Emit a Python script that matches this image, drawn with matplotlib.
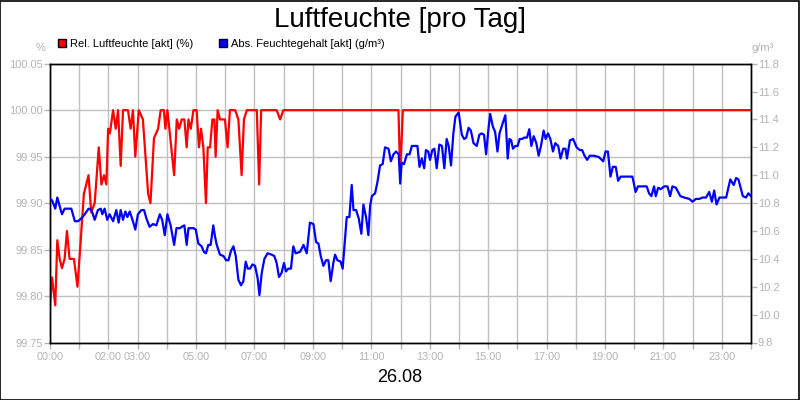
import numpy as np
import matplotlib
matplotlib.use("Agg")
import matplotlib.pyplot as plt
from matplotlib.patches import Patch

plt.rcParams['font.family'] = ['Liberation Sans', 'DejaVu Sans']

# Rel. Luftfeuchte (%) - Stunden / Werte
red_h = [0.00, 0.07, 0.18, 0.25, 0.33, 0.41, 0.50, 0.58, 0.67, 0.82,
         0.94, 1.03, 1.16, 1.32, 1.41, 1.53, 1.67, 1.76, 1.85, 1.93,
         1.99, 2.05, 2.16, 2.25, 2.33, 2.42, 2.50, 2.67, 2.76, 2.84,
         2.92, 3.04, 3.18, 3.36, 3.44, 3.56, 3.70, 3.79, 3.90, 3.95,
         4.02, 4.25, 4.34, 4.42, 4.51, 4.60, 4.68, 4.74, 4.82, 4.91,
         5.02, 5.10, 5.17, 5.25, 5.34, 5.40, 5.48, 5.56, 5.63, 5.67,
         5.74, 5.82, 5.99, 6.08, 6.16, 6.34, 6.45, 6.56, 6.64, 6.74,
         7.08, 7.16, 7.23, 7.76, 7.88, 7.99, 11.93, 11.99, 12.08, 24.00]
red_v = [99.79, 99.82, 99.79, 99.86, 99.84, 99.83, 99.84, 99.87, 99.84, 99.84,
         99.81, 99.85, 99.91, 99.93, 99.89, 99.90, 99.96, 99.92, 99.93, 99.92,
         99.98, 99.975, 100.0, 99.98, 100.0, 99.94, 100.0, 100.0, 99.98, 100.0,
         99.95, 100.0, 99.99, 99.91, 99.90, 99.97, 99.98, 100.0, 100.0, 99.98,
         100.0, 99.93, 99.99, 99.98, 99.99, 99.99, 99.96, 99.99, 99.98, 100.0,
         100.0, 99.96, 99.98, 99.96, 99.90, 99.96, 99.96, 99.99, 99.99, 99.95,
         100.0, 99.99, 99.99, 99.96, 100.0, 100.0, 99.99, 99.93, 99.99, 100.0,
         100.0, 99.92, 100.0, 100.0, 99.99, 100.0, 100.0, 99.93, 100.0, 100.0]

# Abs. Feuchtegehalt (g/m3)
blue_h = [0.00, 0.07, 0.18, 0.25, 0.33, 0.41, 0.50, 0.73, 0.85, 0.96,
          1.07, 1.19, 1.32, 1.42, 1.53, 1.64, 1.74, 1.79, 1.87, 1.96,
          2.04, 2.16, 2.27, 2.35, 2.42, 2.50, 2.58, 2.65, 2.73, 2.84,
          2.92, 3.01, 3.13, 3.22, 3.30, 3.41, 3.53, 3.64, 3.76, 3.84,
          3.93, 4.02, 4.13, 4.25, 4.33, 4.45, 4.51, 4.60, 4.68, 4.74,
          4.91, 4.99, 5.08, 5.19, 5.27, 5.34, 5.42, 5.50, 5.59, 5.65,
          5.71, 5.82, 5.94, 6.03, 6.11, 6.20, 6.28, 6.36, 6.45, 6.54,
          6.62, 6.70, 6.77, 6.85, 6.93, 7.02, 7.11, 7.17, 7.25, 7.34,
          7.45, 7.59, 7.68, 7.76, 7.84, 7.93, 8.01, 8.08, 8.16, 8.25,
          8.33, 8.41, 8.56, 8.68, 8.79, 8.90, 9.02, 9.11, 9.19, 9.27,
          9.36, 9.45, 9.53, 9.61, 9.70, 9.76, 9.84, 9.95, 10.02, 10.10,
          10.16, 10.25, 10.33, 10.39, 10.48, 10.57, 10.66, 10.73, 10.82, 10.90,
          10.96, 11.02, 11.13, 11.21, 11.30, 11.39, 11.47, 11.59, 11.67, 11.76,
          11.85, 11.94, 11.99, 12.04, 12.12, 12.22, 12.31, 12.39, 12.50, 12.58,
          12.65, 12.73, 12.81, 12.87, 12.95, 13.01, 13.09, 13.16, 13.24, 13.33,
          13.42, 13.50, 13.58, 13.65, 13.73, 13.81, 13.88, 13.99, 14.10, 14.18,
          14.25, 14.33, 14.41, 14.50, 14.61, 14.70, 14.78, 14.86, 14.93, 15.01,
          15.07, 15.16, 15.24, 15.32, 15.39, 15.51, 15.59, 15.67, 15.73, 15.79,
          15.85, 15.93, 16.01, 16.08, 16.16, 16.24, 16.33, 16.41, 16.48, 16.56,
          16.65, 16.73, 16.81, 16.90, 16.97, 17.05, 17.13, 17.22, 17.30, 17.40,
          17.48, 17.57, 17.65, 17.70, 17.80, 17.91, 18.03, 18.14, 18.22, 18.30,
          18.39, 18.48, 18.62, 18.79, 18.94, 19.02, 19.10, 19.19, 19.27, 19.37,
          19.45, 19.54, 19.71, 19.94, 20.05, 20.13, 20.28, 20.43, 20.51, 20.59,
          20.68, 20.74, 20.82, 20.91, 21.03, 21.14, 21.23, 21.31, 21.43, 21.58,
          21.71, 21.89, 22.00, 22.11, 22.23, 22.34, 22.46, 22.57, 22.66, 22.74,
          22.82, 22.92, 23.03, 23.15, 23.29, 23.41, 23.49, 23.57, 23.72, 23.83,
          23.91, 24.00]
blue_v = [10.83, 10.82, 10.76, 10.84, 10.78, 10.72, 10.76, 10.76, 10.67, 10.67,
          10.69, 10.72, 10.76, 10.75, 10.68, 10.75, 10.76, 10.72, 10.76, 10.68,
          10.72, 10.67, 10.75, 10.66, 10.75, 10.68, 10.74, 10.70, 10.74, 10.67,
          10.61, 10.72, 10.75, 10.75, 10.69, 10.63, 10.65, 10.64, 10.72, 10.68,
          10.57, 10.72, 10.64, 10.50, 10.62, 10.62, 10.63, 10.64, 10.50, 10.62,
          10.62, 10.61, 10.51, 10.49, 10.45, 10.44, 10.50, 10.50, 10.64, 10.56,
          10.50, 10.43, 10.42, 10.39, 10.39, 10.46, 10.49, 10.42, 10.25, 10.21,
          10.24, 10.38, 10.33, 10.33, 10.36, 10.35, 10.26, 10.14, 10.30, 10.40,
          10.44, 10.43, 10.42, 10.37, 10.27, 10.30, 10.37, 10.31, 10.33, 10.33,
          10.49, 10.44, 10.45, 10.50, 10.44, 10.66, 10.65, 10.52, 10.51, 10.42,
          10.35, 10.39, 10.39, 10.24, 10.37, 10.43, 10.39, 10.38, 10.33, 10.54,
          10.70, 10.70, 10.93, 10.75, 10.75, 10.69, 10.58, 10.79, 10.70, 10.57,
          10.78, 10.85, 10.87, 10.95, 11.07, 11.08, 11.20, 11.19, 11.10, 11.15,
          11.17, 11.15, 10.94, 11.09, 11.08, 11.15, 11.15, 11.21, 11.21, 11.21,
          11.06, 11.12, 11.05, 11.18, 11.17, 11.11, 11.18, 11.19, 11.05, 11.22,
          11.21, 11.05, 11.26, 11.21, 11.07, 11.30, 11.42, 11.45, 11.29, 11.26,
          11.27, 11.34, 11.32, 11.23, 11.21, 11.29, 11.30, 11.29, 11.15, 11.33,
          11.44, 11.35, 11.31, 11.17, 11.30, 11.38, 11.43, 11.12, 11.26, 11.25,
          11.19, 11.21, 11.21, 11.26, 11.26, 11.27, 11.27, 11.33, 11.21, 11.28,
          11.23, 11.14, 11.21, 11.32, 11.26, 11.30, 11.26, 11.17, 11.23, 11.21,
          11.12, 11.19, 11.19, 11.12, 11.25, 11.26, 11.20, 11.18, 11.18, 11.14,
          11.11, 11.14, 11.14, 11.13, 11.10, 11.17, 11.17, 10.99, 11.06, 11.06,
          10.96, 10.99, 10.99, 10.99, 10.88, 10.92, 10.92, 10.92, 10.87, 10.85,
          10.92, 10.85, 10.91, 10.90, 10.92, 10.92, 10.85, 10.92, 10.91, 10.85,
          10.84, 10.83, 10.81, 10.83, 10.83, 10.84, 10.84, 10.88, 10.81, 10.89,
          10.79, 10.84, 10.84, 10.84, 10.97, 10.93, 10.98, 10.97, 10.85, 10.84,
          10.87, 10.85]

left_ticks = [99.75, 99.80, 99.85, 99.90, 99.95, 100.00, 100.05]
right_ticks = [9.8, 10.0, 10.2, 10.4, 10.6, 10.8, 11.0, 11.2, 11.4, 11.6, 11.8]
x_labels = {0: "00:00", 2: "02:00", 3: "03:00", 5: "05:00", 7: "07:00", 9: "09:00",
            11: "11:00", 13: "13:00", 15: "15:00", 17: "17:00", 19: "19:00",
            21: "21:00", 23: "23:00"}

grey = "#b4b4b4"
gridc = "#c0c0c0"

fig = plt.figure(figsize=(8, 4), dpi=100)
ax = fig.add_axes([50 / 800, 1 - 342.5 / 400, 701 / 800, 278.8 / 400])
ax2 = ax.twinx()

ax.plot(red_h, red_v, color="#ff0000", lw=1.6, zorder=3)
ax2.plot(blue_h, blue_v, color="#0000ff", lw=1.6, zorder=3)

ax.set_xlim(0, 24)
ax.set_ylim(99.75, 100.05)
ax2.set_ylim(9.8, 11.8)

hours = list(range(25))
ax.set_xticks(hours)
ax.set_xticklabels([x_labels.get(h, "") for h in hours])
ax.set_yticks(left_ticks)
ax.set_yticklabels(["%.2f" % t for t in left_ticks])
ax2.set_yticks(right_ticks)
ax2.set_yticklabels(["%.1f" % t for t in right_ticks])

ax.grid(True, color=gridc, lw=1.0)
ax.set_axisbelow(True)
for a in (ax, ax2):
    a.tick_params(colors=grey, labelcolor=grey, labelsize=8, length=4, width=1, pad=1)
    for s in a.spines.values():
        s.set_color("black")
        s.set_linewidth(1.0)
ax.tick_params(axis="x", pad=3, labelsize=7.8)

fig.text(0.5, 1 - 20 / 400, "Luftfeuchte [pro Tag]", ha="center", va="center", fontsize=20)
fig.text(0.5, 1 - 378 / 400, "26.08", ha="center", va="center", fontsize=13)
fig.text(46 / 800, 1 - 48 / 400, "%", ha="right", va="center", fontsize=8, color=grey)
fig.text(752 / 800, 1 - 48 / 400, "g/m³", ha="left", va="center", fontsize=8, color=grey)

handles = [Patch(facecolor="#ff0000", edgecolor="black", label="Rel. Luftfeuchte [akt] (%)"),
           Patch(facecolor="#0000ff", edgecolor="black", label="Abs. Feuchtegehalt [akt] (g/m³)")]
fig.legend(handles=handles, loc="upper left", bbox_to_anchor=(58 / 800, 1 - 39 / 400), ncol=2,
           frameon=False, fontsize=8, handlelength=0.7, handleheight=0.7, handletextpad=0.4,
           columnspacing=2.3, borderaxespad=0, borderpad=0)

fig.patches.append(plt.Rectangle((0.0005, 0.001), 0.998, 0.997, transform=fig.transFigure,
                                 fill=False, edgecolor="black", lw=1.2))

fig.savefig("out.png", dpi=100)
